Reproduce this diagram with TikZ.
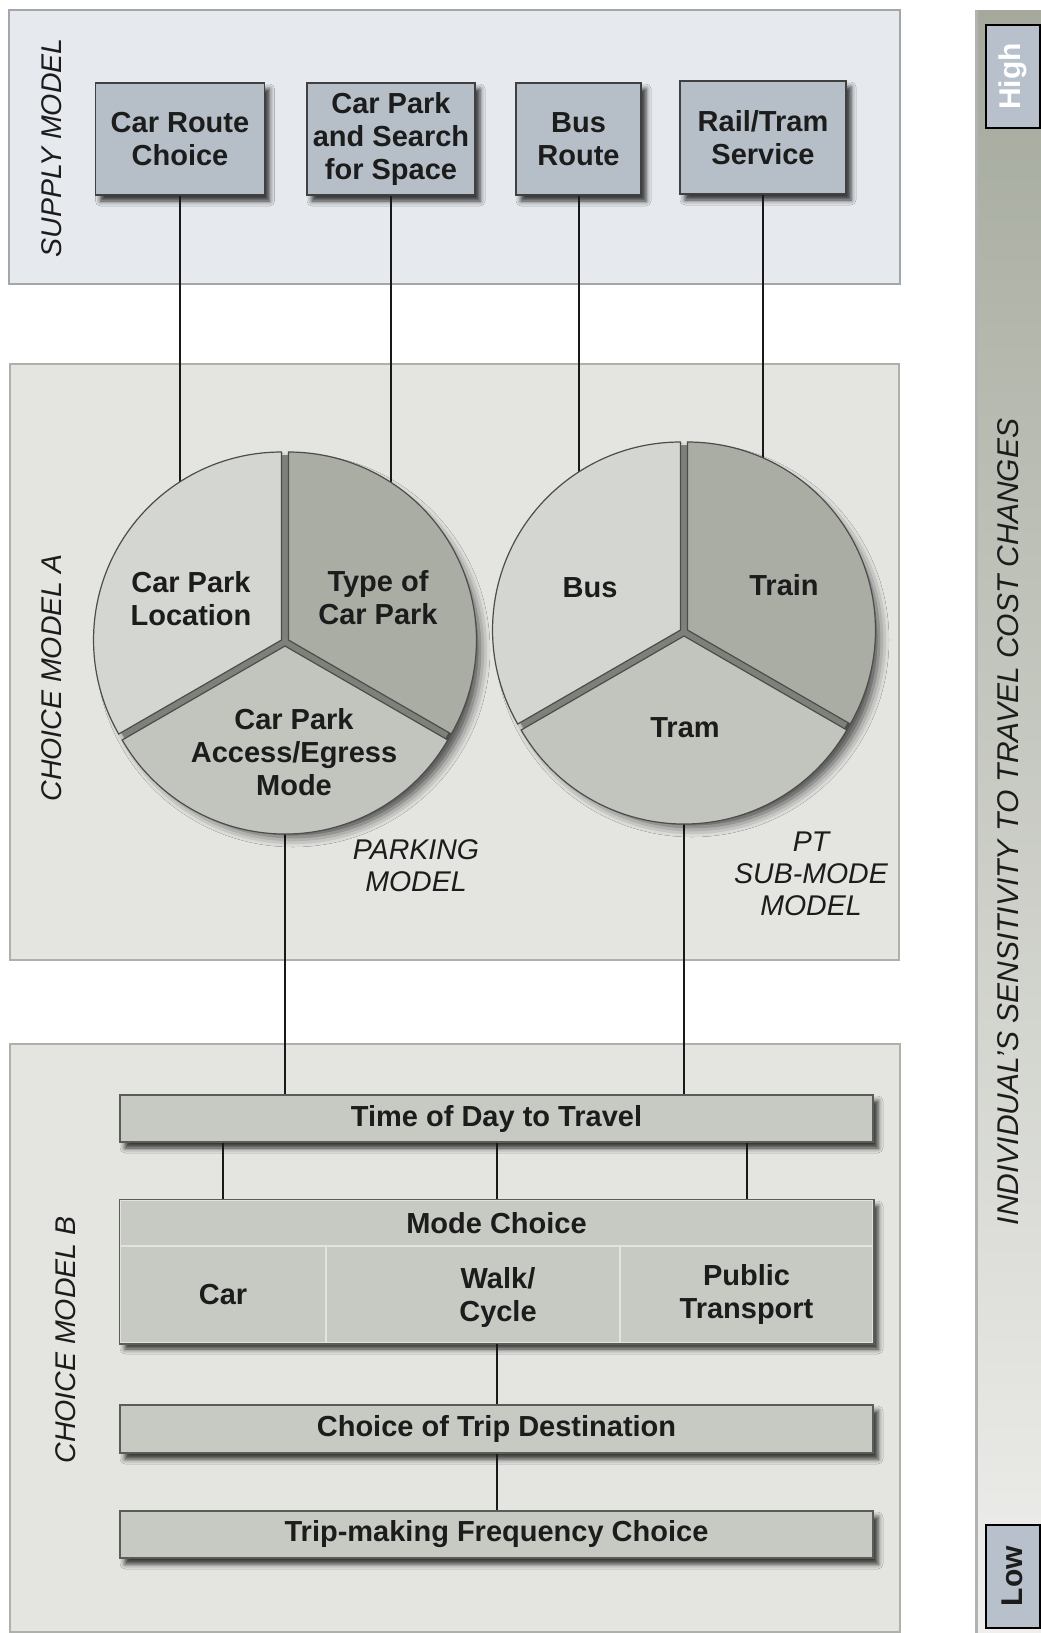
\documentclass[tikz,border=0pt]{standalone}
\usepackage{fontspec}
\setmainfont{Liberation Sans}
\usetikzlibrary{shadows.blur}

\definecolor{supfill}{HTML}{E6E9ED}
\definecolor{supline}{HTML}{A3A7AC}
\definecolor{cmfill}{HTML}{E4E5E1}
\definecolor{cmline}{HTML}{AEB0AB}
\definecolor{boxblue}{HTML}{B6BFC8}
\definecolor{barfill}{HTML}{C7CAC3}
\definecolor{bardraw}{HTML}{5A5C58}
\definecolor{celline}{HTML}{E2E3DF}
\definecolor{sliceA}{HTML}{D4D7D1}
\definecolor{sliceB}{HTML}{A9ADA3}
\definecolor{sliceC}{HTML}{C2C5BD}
\definecolor{gapgrey}{HTML}{7E817A}
\definecolor{inktxt}{HTML}{1C1C1C}
\definecolor{scaletop}{HTML}{A4A99C}
\definecolor{scalemid}{HTML}{C8CBC3}
\definecolor{scalebot}{HTML}{EFEFED}
\definecolor{tagfill}{HTML}{B8C0CB}

% one exploded slice: centre, start angle, end angle, fill
\newcommand{\pieslice}[4]{%
  \draw[slicestyle, fill=#4] ([shift={({(#2+#3)/2}:4pt)}]#1) -- ++(#2:188pt)
    arc[start angle=#2, end angle=#3, radius=188pt] -- cycle;}

\begin{document}
\begin{tikzpicture}[x=1pt, y=-1pt,
    panel/.style={line width=2pt},
    boxfont/.style={font=\bfseries\fontsize{29}{33}\selectfont, text=inktxt, align=center},
    modlabel/.style={font=\itshape\fontsize{28.5}{32}\selectfont, text=inktxt, align=center},
    softshadow/.style={blur shadow={shadow xshift=5pt, shadow yshift=-6pt, shadow blur radius=5pt, shadow opacity=80}},
    pieshadow/.style={blur shadow={shadow xshift=8pt, shadow yshift=-8pt, shadow blur radius=10pt, shadow opacity=70}},
    supbox/.style={draw=black!75, fill=boxblue, line width=1.5pt, inner sep=0pt, boxfont, softshadow},
    bar/.style={draw=bardraw, fill=barfill, line width=1.5pt, minimum width=753pt, minimum height=47pt, inner sep=0pt, boxfont, softshadow},
    cell/.style={draw=celline, fill=barfill, line width=1.5pt, inner sep=0pt, boxfont},
    tag/.style={draw=black, fill=tagfill, line width=2pt, rotate=90, minimum width=103pt, minimum height=54pt, inner sep=0pt, font=\bfseries\fontsize{30}{30}\selectfont},
    pienode/.style={circle, minimum size=380pt, inner sep=0pt},
    slicestyle/.style={draw=black!70, line width=1.2pt},
    link/.style={draw=black!90, line width=2pt}]

    \useasboundingbox (0,0) rectangle (1041,1633);

    % panels
    \draw[panel, draw=supline, fill=supfill] (9,10) rectangle (900,284);
    \draw[panel, draw=cmline, fill=cmfill] (10,364) rectangle (899,960);
    \draw[panel, draw=cmline, fill=cmfill] (10,1044) rectangle (900,1632);

    % sensitivity scale
    \shade[top color=scaletop, middle color=scalemid, bottom color=scalebot] (975,10) rectangle (1041,1633);
    \draw[line width=3pt, draw=black!30] (976.5,10) -- (976.5,1633);
    \node[tag, text=white] (high) at (1012.5,76.5) {High};
    \node[tag, text=inktxt] (low) at (1012.5,1576) {Low};
    \node[modlabel, font=\itshape\fontsize{30}{30}\selectfont, rotate=90] (sens) at (1008,822) {INDIVIDUAL'S SENSITIVITY TO TRAVEL COST CHANGES};

    % supply model
    \node[supbox, minimum width=169pt, minimum height=112pt] (crc) at (180,139) {Car Route\\Choice};
    \node[supbox, minimum width=168pt, minimum height=112pt] (cps) at (391,139) {Car Park\\and Search\\for Space};
    \node[supbox, minimum width=125pt, minimum height=112pt] (brt) at (578.5,139) {Bus\\Route};
    \node[supbox, minimum width=166pt, minimum height=113pt] (rts) at (763,137.5) {Rail/Tram\\Service};

    \node[modlabel, rotate=90] (lsup) at (52,148) {SUPPLY MODEL};
    \node[modlabel, rotate=90] (lcma) at (52,678) {CHOICE MODEL A};
    \node[modlabel, rotate=90] (lcmb) at (66,1340) {CHOICE MODEL B};

    \node[pienode] (lpie) at (285,642) {};
    \node[pienode] (rpie) at (684,632) {};

    % choice model B
    \node[bar] (tod) at (496.5,1118.5) {Time of Day to Travel};
    \node[bar, minimum height=143pt] (mbox) at (496.5,1271.5) {};
    \node[cell, minimum width=753pt, minimum height=46pt] (mch) at (496.5,1223) {Mode Choice};
    \node[cell, minimum width=206pt, minimum height=97pt] (mcar) at (223,1294.5) {Car};
    \node[cell, minimum width=294pt, minimum height=97pt] (mwalk) at (473,1294.5) {};
    \node[cell, minimum width=253pt, minimum height=97pt] (mpt) at (746.5,1294.5) {Public\\Transport};
    \node[boxfont] (walk) at (498,1297) {Walk/\\Cycle};
    \draw[line width=1.5pt, draw=bardraw] (mbox.north west) rectangle (mbox.south east);
    \node[bar, minimum height=48pt] (dest) at (496.5,1429) {Choice of Trip Destination};
    \node[bar] (freq) at (496.5,1534.5) {Trip-making Frequency Choice};

    % connectors
    \draw[link] (crc.south) -- (crc.south |- lpie.123.5);
    \draw[link] (cps.south) -- (cps.south |- lpie.56.1);
    \draw[link] (brt.south) -- (brt.south |- rpie.123.7);
    \draw[link] (rts.south) -- (rts.south |- rpie.65.4);
    \draw[link] (lpie.south) -- (lpie.south |- tod.north);
    \draw[link] (rpie.south) -- (rpie.south |- tod.north);
    \draw[link] (tod.south -| mcar.north) -- (mcar.north |- mbox.north);
    \draw[link] (tod.south) -- (mbox.north);
    \draw[link] (tod.south -| mpt.north) -- (mpt.north |- mbox.north);
    \draw[link] (mbox.south) -- (dest.north);
    \draw[link] (dest.south) -- (freq.north);

    % parking model
    \fill[gapgrey, pieshadow] (lpie.center) circle[radius=187pt];
    \pieslice{lpie.center}{90}{210}{sliceA}
    \pieslice{lpie.center}{-30}{90}{sliceB}
    \pieslice{lpie.center}{210}{330}{sliceC}
    \node[boxfont] (cploc) at (191,599) {Car Park\\Location};
    \node[boxfont] (cptype) at (378,598) {Type of\\Car Park};
    \node[boxfont] (cpacc) at (294,752) {Car Park\\Access/Egress\\Mode};

    % pt sub-mode model
    \fill[gapgrey, pieshadow] (rpie.center) circle[radius=187pt];
    \pieslice{rpie.center}{90}{210}{sliceA}
    \pieslice{rpie.center}{-30}{90}{sliceB}
    \pieslice{rpie.center}{210}{330}{sliceC}
    \node[boxfont] (bus) at (590,588) {Bus};
    \node[boxfont] (train) at (784,585) {Train};
    \node[boxfont] (tram) at (685,728) {Tram};

    \node[modlabel] (lpark) at (416,866) {PARKING\\MODEL};
    \node[modlabel] (lpt) at (811,874) {PT\\SUB-MODE\\MODEL};

\end{tikzpicture}
\end{document}
